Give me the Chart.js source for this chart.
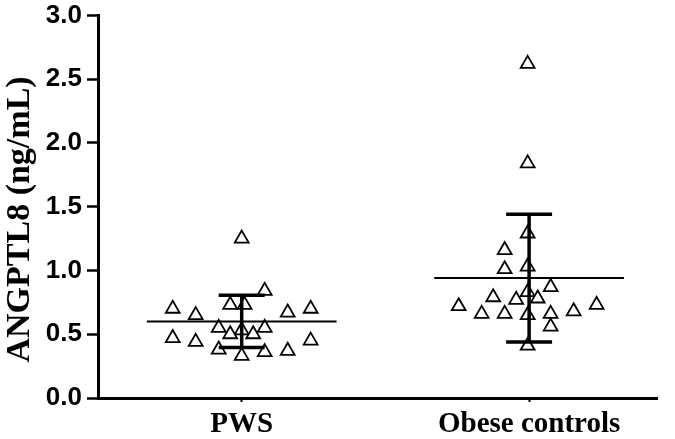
<!DOCTYPE html>
<html>
<head>
<meta charset="utf-8">
<script src="https://cdn.jsdelivr.net/npm/chart.js@4/dist/chart.umd.min.js"></script>
<style>
  html, body { margin: 0; padding: 0; background: #fff; }
  #wrap { width: 675px; height: 439px; }
</style>
</head>
<body>
<div id="wrap"><canvas id="myChart" width="675" height="439"></canvas></div>
<script>
// groups and where they sit on the x axis
const categories = ["PWS", "Obese controls"];
const groupPos = [1, 3];

// individual values, x = jitter position
const pwsX = [1.00, 1.16, 0.52, 0.68, 0.92, 1.02, 1.32, 1.48, 0.84, 1.00,
              1.16, 0.92, 1.08, 0.52, 0.68, 1.48, 0.84, 1.00, 1.16, 1.32];
const pwsY = [1.25, 0.84, 0.70, 0.65, 0.73, 0.73, 0.67, 0.70, 0.55, 0.53,
              0.55, 0.50, 0.50, 0.47, 0.44, 0.45, 0.38, 0.33, 0.36, 0.37];

const obeseX = [2.99, 2.99, 2.99, 2.83, 2.83, 2.99, 3.15, 2.99, 2.75, 2.91,
                3.06, 2.51, 3.47, 2.67, 2.83, 2.99, 3.15, 3.31, 3.15, 2.99];
const obeseY = [2.62, 1.84, 1.29, 1.16, 1.01, 1.03, 0.87, 0.83, 0.79, 0.77,
                0.78, 0.72, 0.73, 0.66, 0.66, 0.65, 0.66, 0.68, 0.56, 0.41];

// mean +/- SD per group
const means = [0.60, 0.94];
const sds = [0.205, 0.50];

const yTicks = [0, 0.5, 1.0, 1.5, 2.0, 2.5, 3.0];

const meanHalf = 0.66;
const capHalf = 0.16;

function toPoints(xs, ys) {
  return xs.map((x, i) => ({ x: x, y: ys[i] }));
}

let lineSets = [];
groupPos.forEach((c, i) => {
  let m = means[i], s = sds[i];
  // SD bar: vertical + two caps
  lineSets.push({
    type: "line",
    data: [
      { x: c - capHalf, y: m + s }, { x: c + capHalf, y: m + s }, { x: c, y: null },
      { x: c, y: m + s }, { x: c, y: m - s }, { x: c + 0.01, y: null },
      { x: c - capHalf, y: m - s }, { x: c + capHalf, y: m - s }
    ],
    borderColor: "#000",
    borderWidth: 3.5,
    pointRadius: 0,
    spanGaps: false,
    order: 0
  });
  // mean line
  lineSets.push({
    type: "line",
    data: [{ x: c - meanHalf, y: m }, { x: c + meanHalf, y: m }],
    borderColor: "#000",
    borderWidth: 2,
    pointRadius: 0,
    order: 1
  });
});

const pointStyle = {
  pointStyle: "triangle",
  pointRadius: 8,
  pointBorderWidth: 1.8,
  pointBackgroundColor: "#fff",
  pointBorderColor: "#000",
  showLine: false,
  order: 2
};

const data = {
  datasets: lineSets.concat([
    Object.assign({ data: toPoints(pwsX, pwsY) }, pointStyle),
    Object.assign({ data: toPoints(obeseX, obeseY) }, pointStyle)
  ])
};

const config = {
  type: "scatter",
  data: data,
  options: {
    responsive: false,
    animation: false,
    layout: { padding: { left: 0, top: 15, right: 18, bottom: 0 } },
    plugins: { legend: { display: false }, tooltip: { enabled: false } },
    scales: {
      x: {
        type: "linear",
        min: 0,
        max: 3.89,
        afterBuildTicks: (scale) => {
          scale.ticks = groupPos.map(v => ({ value: v }));
        },
        afterFit: (scale) => { scale.height = 41; },
        ticks: {
          color: "#000",
          padding: 5,
          font: { family: "'Liberation Serif', 'Times New Roman', serif", size: 29, weight: "bold" },
          callback: (v) => categories[groupPos.indexOf(v)] || ""
        },
        grid: { drawOnChartArea: false, tickLength: 4, tickColor: "#000", tickWidth: 2 },
        border: { color: "#000", width: 3 }
      },
      y: {
        min: 0,
        max: 3,
        afterBuildTicks: (scale) => {
          scale.ticks = yTicks.map(v => ({ value: v }));
        },
        afterFit: (scale) => { scale.width = 98; },
        ticks: {
          color: "#000",
          padding: 5,
          font: { family: "'Liberation Sans', Arial, sans-serif", size: 26, weight: "bold", lineHeight: 0.8 },
          callback: (v) => v.toFixed(1)
        },
        grid: { drawOnChartArea: false, tickLength: 11, tickColor: "#000", tickWidth: 2.5 },
        border: { color: "#000", width: 3 },
        title: {
          display: true,
          // trailing nbsp nudges the centred title down a little, as in the original
          text: "ANGPTL8 (ng/mL)\u00a0\u00a0\u00a0",
          color: "#000",
          padding: { top: 0, bottom: 4 },
          font: { family: "'Liberation Serif', 'Times New Roman', serif", size: 34, weight: "bold" }
        }
      }
    }
  }
};

new Chart(document.getElementById("myChart"), config);
</script>
</body>
</html>
